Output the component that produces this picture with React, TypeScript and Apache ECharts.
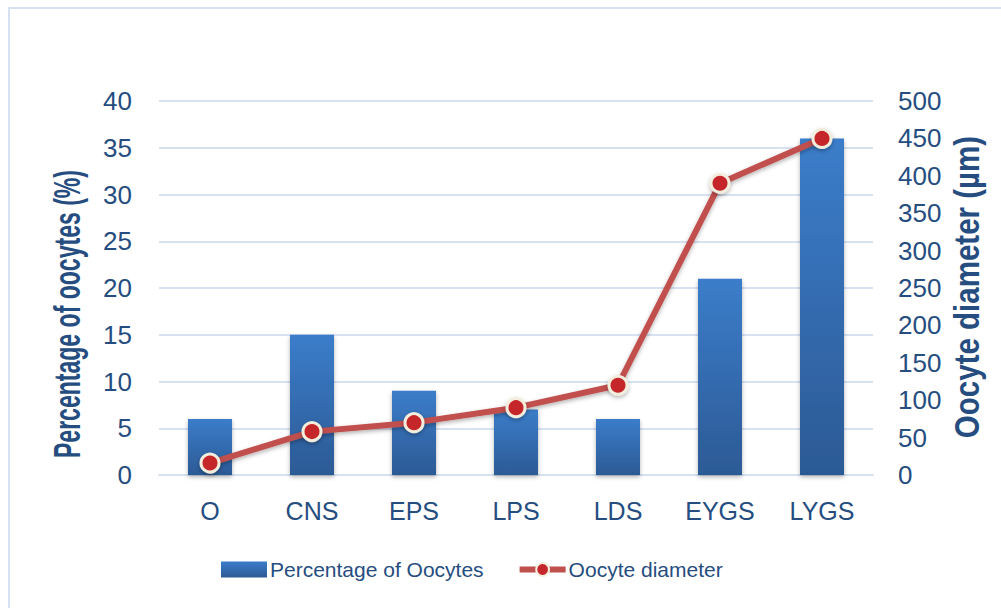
import React, { useEffect, useRef } from "react";
import * as echarts from "echarts";

const categories = ["O", "CNS", "EPS", "LPS", "LDS", "EYGS", "LYGS"];
const percentValues = [6, 15, 9, 7, 6, 21, 36];
const diameterValues = [16, 58, 70, 90, 120, 390, 450];
const leftTitle = "Percentage of oocytes (%)";
const rightTitle = "Oocyte diameter (µm)";
const barName = "Percentage of Oocytes";
const lineName = "Oocyte diameter";

const TEXT = "#264d80";
const GRID = "#d6e2f2";
const FONT = "'Liberation Sans Narrow', 'Arial Narrow', 'Liberation Sans', Arial, sans-serif";

export default function App() {
  const ref = useRef<HTMLDivElement>(null);
  useEffect(() => {
    if (!ref.current) return;
    const chart = echarts.init(ref.current, null, { renderer: "svg" });
    chart.setOption({
      animation: false,
      backgroundColor: "#ffffff",
      textStyle: { fontFamily: FONT },
      grid: { left: 159, right: 128, top: 101, bottom: 133, containLabel: false },
      legend: {
        left: 221,
        top: 559,
        padding: 0,
        itemWidth: 46,
        itemHeight: 16,
        itemGap: 33,
        textStyle: { color: TEXT, fontSize: 21, fontFamily: FONT, padding: [0, 0, 0, -2] },
        data: [
          { name: barName, icon: "rect" },
          { name: lineName, lineStyle: { width: 6 } },
        ],
      },
      xAxis: {
        type: "category",
        data: categories,
        axisLine: { show: true, lineStyle: { color: GRID, width: 2 } },
        axisTick: { show: false },
        axisLabel: { color: TEXT, fontSize: 25, lineHeight: 25, margin: 23, fontFamily: FONT },
      },
      yAxis: [
        {
          type: "value",
          min: 0,
          max: 40,
          interval: 5,
          axisLine: { show: false },
          axisTick: { show: false },
          splitLine: { show: true, lineStyle: { color: GRID, width: 2 } },
          axisLabel: { color: TEXT, fontSize: 26, margin: 27, fontFamily: FONT },
        },
        {
          type: "value",
          min: 0,
          max: 500,
          interval: 50,
          axisLine: { show: false },
          axisTick: { show: false },
          splitLine: { show: false },
          axisLabel: { color: TEXT, fontSize: 26, margin: 25, fontFamily: FONT },
        },
      ],
      graphic: [
        {
          type: "rect",
          shape: { x: 9, y: 8, width: 1100, height: 700 },
          style: { fill: "none", stroke: "#d5e2f3", lineWidth: 2 },
          silent: true,
          z: -1,
        },
        {
          type: "text",
          x: 67,
          y: 314,
          rotation: Math.PI / 2,
          scaleX: 0.64,
          style: {
            text: leftTitle,
            fill: TEXT,
            font: `bold 36px ${FONT}`,
            textAlign: "center",
            textVerticalAlign: "middle",
          },
        },
        {
          type: "text",
          x: 966,
          y: 287,
          rotation: Math.PI / 2,
          scaleX: 0.82,
          style: {
            text: rightTitle,
            fill: TEXT,
            font: `bold 36px ${FONT}`,
            textAlign: "center",
            textVerticalAlign: "middle",
          },
        },
      ],
      series: [
        {
          name: barName,
          type: "bar",
          yAxisIndex: 0,
          data: percentValues,
          barWidth: 44,
          itemStyle: {
            color: new echarts.graphic.LinearGradient(0, 0, 0, 1, [
              { offset: 0, color: "#3b7dca" },
              { offset: 1, color: "#2c5a95" },
            ]),
            shadowColor: "rgba(0,0,0,0.3)",
            shadowBlur: 4,
            shadowOffsetY: 2,
          },
        },
        {
          name: lineName,
          type: "line",
          yAxisIndex: 1,
          data: diameterValues,
          symbol: "circle",
          symbolSize: 18,
          lineStyle: {
            color: "#c0504d",
            width: 6,
            shadowColor: "rgba(0,0,0,0.3)",
            shadowBlur: 4,
            shadowOffsetY: 2,
          },
          itemStyle: {
            color: "#c4262b",
            borderColor: "#f3eddd",
            borderWidth: 3,
            shadowColor: "rgba(0,0,0,0.3)",
            shadowBlur: 4,
            shadowOffsetY: 2,
          },
          z: 3,
        },
      ],
    });
    return () => chart.dispose();
  }, []);
  return (
    <div
      ref={ref}
      style={{ position: "fixed", left: 0, top: 0, width: 1001, height: 608 }}
    />
  );
}
